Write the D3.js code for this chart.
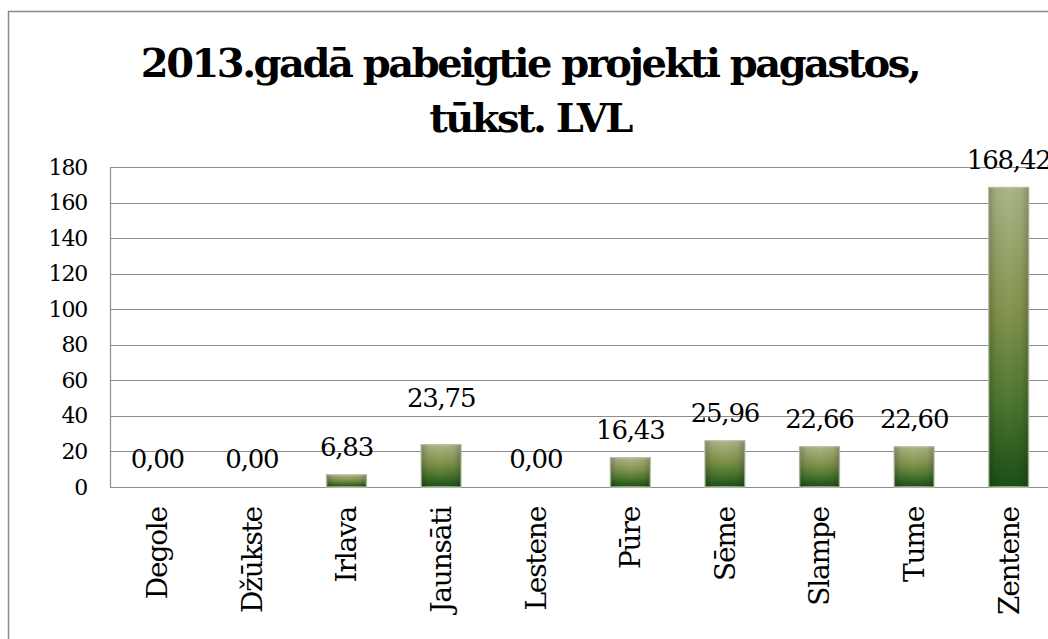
<!DOCTYPE html>
<html>
<head>
<meta charset="utf-8">
<script src="https://cdn.jsdelivr.net/npm/d3@7"></script>
<style>
  html, body { margin: 0; padding: 0; background: #fff; }
  svg { display: block; }
</style>
</head>
<body>
<svg id="chart" width="1048" height="639"></svg>
<script>
const categories = ["Degole", "Džūkste", "Irlava", "Jaunsāti", "Lestene", "Pūre", "Sēme", "Slampe", "Tume", "Zentene"];
const values = [0.00, 0.00, 6.83, 23.75, 0.00, 16.43, 25.96, 22.66, 22.60, 168.42];
const valueLabels = ["0,00", "0,00", "6,83", "23,75", "0,00", "16,43", "25,96", "22,66", "22,60", "168,42"];
const yTicks = [0, 20, 40, 60, 80, 100, 120, 140, 160, 180];
const titleLines = ["2013.gadā pabeigtie projekti pagastos,", "tūkst. LVL"];

const FONT = "DejaVu Serif";
const svg = d3.select("#chart");
const plot = { left: 110, right: 1056, top: 167, bottom: 487 };

const defs = svg.append("defs");
const g1 = defs.append("linearGradient").attr("id", "barGrad")
  .attr("x1", 0).attr("y1", 0).attr("x2", 0).attr("y2", 1);
[["0%", "#acb688"], ["40%", "#86964f"], ["70%", "#4f7a32"], ["100%", "#1b4f15"]]
  .forEach(([o, c]) => g1.append("stop").attr("offset", o).attr("stop-color", c));
const g2 = defs.append("linearGradient").attr("id", "barShade")
  .attr("x1", 0).attr("y1", 0).attr("x2", 1).attr("y2", 0);
[["0%", 0.22], ["18%", 0.05], ["50%", 0], ["82%", 0.05], ["100%", 0.22]]
  .forEach(([o, a]) => g2.append("stop").attr("offset", o).attr("stop-color", "#000").attr("stop-opacity", a));

// outer frame
svg.append("rect").attr("x", 8.5).attr("y", 11.5).attr("width", 1060).attr("height", 660)
  .attr("fill", "#fff").attr("stroke", "#8a8a8a").attr("stroke-width", 1.5);

// title: larger font, letter spacing tightened so line 1 spans the original's width
const titleSize = 40;
const title = svg.append("text").attr("text-anchor", "middle")
  .attr("font-family", FONT).attr("font-size", titleSize).attr("font-weight", "bold").attr("fill", "#000");
const spans = titleLines.map((t, i) => title.append("tspan").attr("x", 530).attr("y", 77 + i * 55).text(t));
const w0 = spans[0].node().getComputedTextLength();
if (w0 > 0) {
  const ls = Math.max(-2.5, Math.min(0, (771 - w0) / titleLines[0].length));
  title.attr("letter-spacing", ls);
}

const x = d3.scaleBand().domain(categories).range([plot.left, plot.right]).paddingInner(0.58).paddingOuter(0.29);
const y = d3.scaleLinear().domain([0, 180]).range([plot.bottom, plot.top]);

// gridlines
svg.append("g").selectAll("line").data(yTicks).join("line")
  .attr("x1", plot.left).attr("x2", plot.right)
  .attr("y1", d => Math.round(y(d)) + 0.5).attr("y2", d => Math.round(y(d)) + 0.5)
  .attr("stroke", "#8c8c8c").attr("stroke-width", 1.2);

// y axis
const yAxis = svg.append("g").attr("transform", `translate(${plot.left},0)`)
  .call(d3.axisLeft(y).tickValues(yTicks).tickSize(0).tickPadding(23).tickFormat(d3.format("d")));
yAxis.attr("font-family", FONT);
yAxis.select(".domain").attr("stroke", "#8c8c8c").attr("stroke-width", 1.2);
yAxis.selectAll("text").attr("font-family", FONT).attr("font-size", 22)
  .attr("letter-spacing", -1.2).attr("fill", "#000");

// bars
const bars = svg.append("g");
bars.selectAll("rect.bar").data(values).join("rect").attr("class", "bar")
  .attr("x", (d, i) => x(categories[i])).attr("width", x.bandwidth())
  .attr("y", d => y(d)).attr("height", d => y(0) - y(d))
  .attr("fill", "url(#barGrad)").attr("stroke", "#b7c3a5").attr("stroke-width", 1.5)
  .style("display", d => d > 0 ? null : "none");
bars.selectAll("rect.shade").data(values).join("rect").attr("class", "shade")
  .attr("x", (d, i) => x(categories[i])).attr("width", x.bandwidth())
  .attr("y", d => y(d)).attr("height", d => y(0) - y(d))
  .attr("fill", "url(#barShade)")
  .style("display", d => d > 0 ? null : "none");

// value labels (the Jaunsāti label sits higher in the original)
svg.append("g").selectAll("text").data(values).join("text")
  .attr("font-family", FONT)
  .attr("text-anchor", "middle")
  .attr("x", (d, i) => x(categories[i]) + x.bandwidth() / 2)
  .attr("y", (d, i) => y(d) - 19 - (categories[i] === "Jaunsāti" ? 19 : 0))
  .attr("font-size", 26).attr("letter-spacing", -1.2).attr("fill", "#000")
  .text((d, i) => valueLabels[i]);

// x axis labels
const xAxis = svg.append("g").attr("transform", `translate(0,${plot.bottom})`)
  .call(d3.axisBottom(x).tickSize(0).tickPadding(0));
xAxis.attr("font-family", FONT);
xAxis.select(".domain").remove();
xAxis.selectAll("text")
  .attr("font-family", FONT)
  .attr("font-size", 28)
  .attr("letter-spacing", -1.2)
  .attr("fill", "#000")
  .attr("text-anchor", "end")
  .attr("transform", "rotate(-90)")
  .attr("x", -20).attr("y", 0).attr("dy", "0.35em");
</script>
</body>
</html>
